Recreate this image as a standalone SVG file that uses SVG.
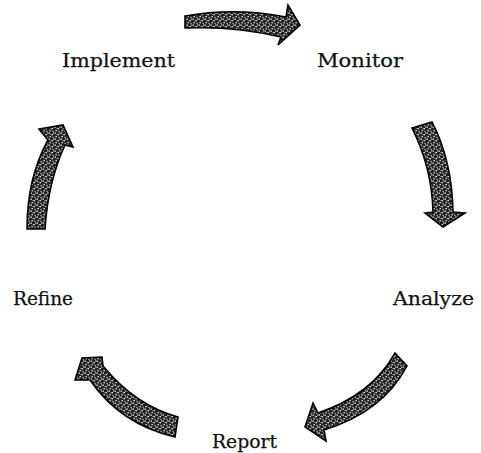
<svg xmlns="http://www.w3.org/2000/svg" width="481" height="453" viewBox="0 0 481 453">
  <defs>
    <pattern id="stipple" width="6" height="6" patternUnits="userSpaceOnUse">
      <rect width="6" height="6" fill="#222"/>
      <rect x="0.5" y="0.5" width="1.3" height="1.3" fill="#fff"/>
      <rect x="3.5" y="2" width="1.3" height="1.3" fill="#fff"/>
      <rect x="1.5" y="4" width="1.3" height="1.3" fill="#f0f0f0"/>
      <rect x="4.5" y="4.8" width="1" height="1" fill="#fff"/>
      <rect x="5" y="0.5" width="1" height="1" fill="#ddd"/>
      <rect x="2.5" y="2.3" width="0.8" height="0.8" fill="#ccc"/>
    </pattern>
  </defs>
  <style>
    .lbl { font-family: "DejaVu Serif", "Liberation Serif", serif; font-size: 18px; fill: #111; stroke: #111; stroke-width: 0.25; }
    .arrow { fill: url(#stipple); stroke: #000; stroke-width: 1.6; stroke-linejoin: miter; }
  </style>
  <rect width="481" height="453" fill="#fff"/>

  <g id="connectors">
    <path id="implement-monitor" class="arrow" d="M185,16 Q235,7 286,17 L288,5 L300,25 L278,45 L281,37 Q235,26 185,28 Z"/>
    <path id="monitor-analyze" class="arrow" d="M412,128 L432,122 Q452,160 453,212 L465,213 L443,227 L425,213 L433,212 Q432,168 412,128 Z"/>
    <path id="analyze-report" class="arrow" d="M395,353 L407,366 Q383,412 324,430 L326,441 L305,427 L313,403 L318,413 Q372,395 395,353 Z"/>
    <path id="report-refine" class="arrow" d="M178,417 L175,437 Q120,424 90,380 L75,380 L82,358 L102,357 L103,366 Q135,405 178,417 Z"/>
    <path id="refine-implement" class="arrow" d="M27,229 Q27,178 48,140 L39,129 L63,125 L73,147 L65,145 Q48,182 45,229 Z"/>
  </g>

  <g id="node-implement"><text class="lbl" x="62" y="67" textLength="113" lengthAdjust="spacingAndGlyphs">Implement</text></g>
  <g id="node-monitor"><text class="lbl" x="317" y="67" textLength="86" lengthAdjust="spacingAndGlyphs">Monitor</text></g>
  <g id="node-analyze"><text class="lbl" x="393" y="305" textLength="81" lengthAdjust="spacingAndGlyphs">Analyze</text></g>
  <g id="node-refine"><text class="lbl" x="13" y="305" textLength="60" lengthAdjust="spacingAndGlyphs">Refine</text></g>
  <g id="node-report"><text class="lbl" x="212" y="448" textLength="65" lengthAdjust="spacingAndGlyphs">Report</text></g>
</svg>
